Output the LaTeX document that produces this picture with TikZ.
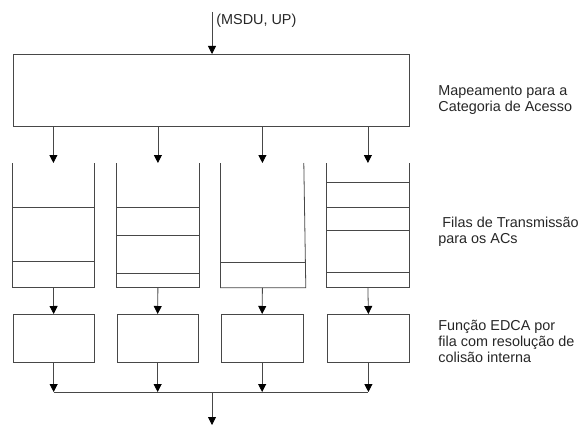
\documentclass[tikz,border=0pt]{standalone}
\usepackage{fontspec}
\setmainfont{Liberation Sans}
\usetikzlibrary{arrows.meta}
\begin{document}
\begin{tikzpicture}[x=1pt,y=-1pt, line width=0.8pt,
  ln/.style={draw=black!72},
  arr/.style={ln,-{Triangle[width=8pt,length=8pt,color=black,fill=black]}},
  lbl/.style={font=\fontsize{14.4}{16}\selectfont, align=left, anchor=west, inner sep=0pt, text=black!85},
  box/.style={ln, rectangle, inner sep=0pt, anchor=north west},
  qbox/.style={rectangle, inner sep=0pt, anchor=north west, minimum height=124pt}]
\useasboundingbox (0,0) rectangle (580,425);
% mapping box
\node[box, minimum width=396pt, minimum height=72pt] (map) at (12.5,54) {};
\coordinate (in) at (212,12);
\draw[arr] (in) -- (in |- map.north);
\node[lbl] (msdu) at (216,21) {(MSDU, UP)};
% queues
\node[qbox, minimum width=82pt] (q1) at (12,163) {};
\node[qbox, minimum width=83pt] (q2) at (116,163) {};
\node[qbox, minimum width=83pt] (q3) at (220.5,163) {};
\node[qbox, minimum width=83pt] (q4) at (326,163) {};
\foreach \q in {q1,q2,q4}{
  \draw[ln] (\q.north west) -- (\q.south west) -- (\q.south east) -- (\q.north east);
}
\draw[ln] (q3.north west) -- (q3.south west) -- ([xshift=1.5pt]q3.south east) -- ([xshift=-0.5pt]q3.north east);
% queue entries
\draw[ln] (12,207) -- (94,207) (12,261) -- (94,261);
\draw[ln] (116,207) -- (199,207) (116,235) -- (199,235) (116,273) -- (199,273);
\draw[ln] (220.5,262) -- (304.5,262);
\draw[ln] (326,182) -- (409,182) (326,207) -- (409,207) (326,230) -- (409,230) (326,272) -- (409,272);
% EDCA boxes
\node[box, minimum width=81.5pt, minimum height=48pt] (e1) at (12.5,314) {};
\node[box, minimum width=81.5pt, minimum height=48pt] (e2) at (116.5,314) {};
\node[box, minimum width=82.5pt, minimum height=48pt] (e3) at (220.5,314) {};
\node[box, minimum width=82pt, minimum height=48pt] (e4) at (327,314) {};
\foreach \i in {1,2,3,4}{
  \draw[arr] (map.south -| q\i.north) -- (q\i.north);
  \draw[arr] (q\i.south) -- (e\i.north);
}
% bus
\coordinate (b1) at (e1.south |- 0,392);
\coordinate (b4) at (e4.south |- 0,392);
\draw[ln] (b1) -- (b4);
\foreach \i in {1,2,3,4}{
  \draw[arr] (e\i.south) -- (e\i.south |- b1);
}
\coordinate (out) at (212,425);
\draw[arr] (out |- b1) -- (out);
% labels
\node[lbl] (t1) at (438,100) {Mapeamento para a\\Categoria de Acesso};
\node[lbl] (t2) at (438,232) {\hspace*{4pt}Filas de Transmissão\\para os ACs};
\node[lbl] (t3) at (438,341) {Função EDCA por\\fila com resolução de\\colisão interna};
\end{tikzpicture}
\end{document}
